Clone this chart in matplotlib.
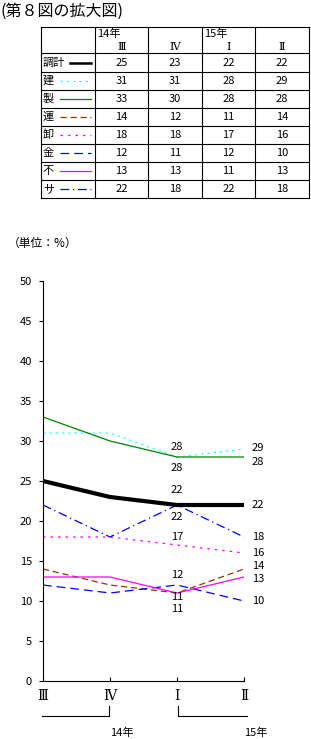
import matplotlib
matplotlib.use("Agg")
import matplotlib.pyplot as plt

plt.rcParams["font.family"] = ["Noto Sans CJK JP", "DejaVu Sans"]

# Data (第８図の拡大図)
quarters = ["Ⅲ", "Ⅳ", "Ⅰ", "Ⅱ"]
series_names = ["調計", "建", "製", "運", "卸", "金", "不", "サ"]
v_total = [25, 23, 22, 22]
v_build = [31, 31, 28, 29]
v_manu = [33, 30, 28, 28]
v_trans = [14, 12, 11, 14]
v_whole = [18, 18, 17, 16]
v_fin = [12, 11, 12, 10]
v_real = [13, 13, 11, 13]
v_serv = [22, 18, 22, 18]
values = [v_total, v_build, v_manu, v_trans, v_whole, v_fin, v_real, v_serv]

colors = ["black", "#33FFFF", "#008000", "#993300", "#FF00FF", "#0000FF", "#FF00FF", "#0000FF"]
widths = [3.0, 0.9, 0.9, 0.9, 0.9, 0.9, 0.9, 0.9]
styles = ["-", (0, (2, 3)), "-", (0, (5, 3)), (0, (2, 4)), (0, (7, 4)), "-", (0, (7, 3, 1, 3))]

# labels at Ⅰ (series, offset) and at Ⅱ
lab_I = [(1, 1.3), (2, -1.4), (0, 1.9), (7, -1.5), (4, 1.0), (5, 1.3), (3, -0.5), (6, -2.0)]
lab_II = [(1, 0.1), (2, -0.6), (0, 0.0), (7, 0.0), (4, 0.0), (3, 0.4), (6, -0.3), (5, 0.0)]

roman = ["DejaVu Serif"]

W, H = 311, 739
fig = plt.figure(figsize=(W / 100, H / 100), dpi=100)
bg = fig.add_axes([0, 0, 1, 1])
bg.set_xlim(0, W)
bg.set_ylim(H, 0)
bg.axis("off")

fs = 8
bg.text(0, 11, "(第８図の拡大図)", fontsize=11.5, va="center", ha="left")

# table
tx = [41, 95, 148, 202, 255, 309]
ty = [27, 53, 72, 90, 108, 126, 144, 162, 180, 198]
for x in tx:
    bg.plot([x, x], [ty[0], ty[-1]], color="black", lw=0.8)
for y in ty:
    bg.plot([tx[0], tx[-1]], [y, y], color="black", lw=0.8)
bg.text(tx[1] + 2, 34, "14年", fontsize=fs, va="center")
bg.text(tx[3] + 2, 34, "15年", fontsize=fs, va="center")
for j, q in enumerate(quarters):
    bg.text((tx[j + 1] + tx[j + 2]) / 2, 47, q, fontsize=fs, ha="center", va="center",
            family=roman)
for i, name in enumerate(series_names):
    yc = (ty[i + 1] + ty[i + 2]) / 2
    bg.text(tx[0] + 2, yc, name, fontsize=fs, va="center")
    x0 = 70 if len(name) > 1 else 60
    bg.plot([x0, 91], [yc, yc], color=colors[i], lw=min(widths[i], 1.8), linestyle=styles[i])
    for j in range(4):
        bg.text((tx[j + 1] + tx[j + 2]) / 2, yc, str(values[i][j]), fontsize=fs,
                ha="center", va="center")

bg.text(8, 243, "（単位：%）", fontsize=8.5, va="center")

# main chart
x0p, x1p, y0p, y1p = 43, 244, 681, 281
ax = fig.add_axes([x0p / W, (H - y0p) / H, (x1p - x0p) / W, (y0p - y1p) / H])
xs = range(len(quarters))
for i in range(len(series_names)):
    ax.plot(xs, values[i], color=colors[i], lw=widths[i], linestyle=styles[i],
            zorder=3 if i == 0 else 2)
ax.set_xlim(0, 3)
ax.set_ylim(0, 50)
ax.set_yticks(range(0, 51, 5))
ax.set_xticks(list(xs))
ax.set_xticklabels(quarters, family=roman, fontsize=10)
ax.tick_params(axis="y", labelsize=fs, length=3, width=0.8, direction="out", pad=5)
ax.tick_params(axis="x", length=3, width=0.8, direction="in", pad=6)
for s in ["top", "right"]:
    ax.spines[s].set_visible(False)
for s in ["left", "bottom"]:
    ax.spines[s].set_linewidth(0.8)
ax.patch.set_alpha(0)

for i, off in lab_I:
    ax.text(2, values[i][2] + off, str(values[i][2]), fontsize=fs, ha="center", va="center")
for i, off in lab_II:
    ax.text(3.12, values[i][3] + off, str(values[i][3]), fontsize=fs, ha="left", va="center")

# year brackets
bg.plot([42, 109, 109], [716, 716, 706], color="black", lw=0.8)
bg.plot([178, 178, 247], [706, 716, 716], color="black", lw=0.8)
bg.text(122, 733, "14年", fontsize=fs, ha="center", va="center")
bg.text(256, 733, "15年", fontsize=fs, ha="center", va="center")

fig.savefig("out.png", dpi=100)
